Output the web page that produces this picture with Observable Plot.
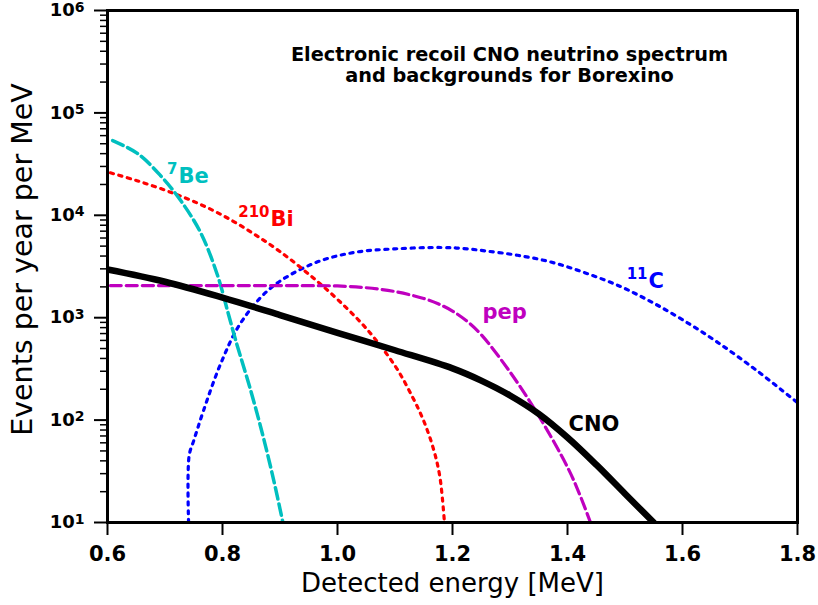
<!DOCTYPE html>
<html>
<head>
<meta charset="utf-8">
<script src="https://cdn.jsdelivr.net/npm/d3@7"></script>
<script src="https://cdn.jsdelivr.net/npm/@observablehq/plot@0.6"></script>
<style>
  html, body { margin: 0; padding: 0; background: #fff; }
  #chart { width: 818px; height: 605px; }
</style>
</head>
<body>
<div id="chart"></div>
<script>
// ---- data ----
const cnoE = [0.6, 0.7, 0.8, 0.9, 1.0, 1.1, 1.2, 1.25, 1.3, 1.35, 1.4, 1.45, 1.5, 1.55];
const cnoV = [2958, 2244, 1570, 1062, 711, 481, 320, 243, 174, 115, 67.6, 36.7, 19.1, 10];

const pepE = [0.605, 0.7, 0.8, 0.9, 0.95, 1.0, 1.05, 1.1, 1.15, 1.175, 1.2, 1.225, 1.25, 1.3, 1.35, 1.4, 1.42, 1.44];
const pepV = [2060, 2060, 2060, 2060, 2055, 2042, 1961, 1799, 1540, 1368, 1161, 925, 682, 295, 110, 34.7, 19.5, 10];

const be7E = [0.609, 0.652, 0.692, 0.727, 0.762, 0.791, 0.81, 0.823, 0.849, 0.871, 0.89, 0.905];
const be7V = [53700, 40200, 24500, 14000, 6760, 2630, 1100, 600, 195, 68, 24.5, 10];

const bi210E = [0.605, 0.65, 0.7, 0.75, 0.8, 0.85, 0.9, 0.95, 1.0, 1.05, 1.1, 1.13, 1.15, 1.167, 1.178, 1.186];
const bi210V = [26000, 21900, 17600, 13650, 10000, 6840, 4420, 2660, 1510, 785, 339, 170, 98, 52, 28, 10];

const c11E = [0.741, 0.742, 0.75, 0.767, 0.797, 0.831, 0.883, 0.958, 1.028, 1.1, 1.18, 1.22, 1.26, 1.313, 1.37, 1.43, 1.49, 1.544, 1.6, 1.661, 1.73, 1.8];
const c11V = [10, 45, 63, 124, 357, 877, 1930, 3380, 4330, 4700, 4850, 4730, 4470, 4070, 3510, 2750, 2040, 1445, 955, 575, 302, 148];

const labelSup  = ["7", "210", "", "11", ""];
const labelName = ["Be", "Bi", "pep", "C", "CNO"];
const labelE    = [0.7235, 0.8835, 1.2522, 1.5409, 1.4017];
const labelV    = [20460, 7950, 982, 1972, 79.1];
const labelColor = ["#00bfbf", "#ff0000", "#bf00bf", "#0000ff", "#000000"];

const xTicks = [0.6, 0.8, 1.0, 1.2, 1.4, 1.6, 1.8];
const yTicks = [10, 100, 1000, 10000, 100000, 1000000];
const yMinor = [];
for (let k = 1; k <= 5; k++) for (let m = 2; m <= 9; m++) yMinor.push(m * 10 ** k);

const titleText = "Electronic recoil CNO neutrino spectrum\nand backgrounds for Borexino";
const xLabel = "Detected energy [MeV]";
const yLabel = "Events per year per MeV";

// ---- build tables ----
const toRows = (E, V) => E.map((e, i) => ({E: e, v: V[i]}));
const cno = toRows(cnoE, cnoV);
const pep = toRows(pepE, pepV);
const be7 = toRows(be7E, be7V);
const bi210 = toRows(bi210E, bi210V);
const c11 = toRows(c11E, c11V);
const labels = labelName.map((n, i) => ({name: n, sup: labelSup[i], E: labelE[i], v: labelV[i], color: labelColor[i]}));

const font = "DejaVu Sans";
const curve = "catmull-rom";

const chart = Plot.plot({
  width: 818,
  height: 605,
  marginLeft: 107,
  marginRight: 21,
  marginTop: 10,
  marginBottom: 83,
  style: {fontFamily: font, background: "#fff", color: "#000"},
  x: {domain: [0.6, 1.8], label: null},
  y: {type: "log", domain: [10, 1e6], label: null},
  color: {type: "identity"},
  marks: [
    Plot.line(c11, {x: "E", y: "v", stroke: "#0000ff", strokeWidth: 3.2, strokeDasharray: "3.2,5.6", curve, clip: true}),
    Plot.line(bi210, {x: "E", y: "v", stroke: "#ff0000", strokeWidth: 3.2, strokeDasharray: "3.2,5.6", curve, clip: true}),
    Plot.line(be7, {x: "E", y: "v", stroke: "#00bfbf", strokeWidth: 3.5, strokeDasharray: "11.5,5", curve, clip: true}),
    Plot.line(pep, {x: "E", y: "v", stroke: "#bf00bf", strokeWidth: 3.2, strokeDasharray: "11,5", curve, clip: true}),
    Plot.line(cno, {x: "E", y: "v", stroke: "#000", strokeWidth: 6.5, curve, clip: true}),
    Plot.text(labels, {x: "E", y: "v", text: "name", fill: "color", textAnchor: "start", lineAnchor: "bottom", fontSize: 21, fontWeight: "bold"}),
    Plot.text(labels.filter(d => d.sup), {x: "E", y: "v", text: "sup", fill: "color", textAnchor: "end", lineAnchor: "bottom", dx: -1, dy: -9, fontSize: 15, fontWeight: "bold"}),
    Plot.text([titleText], {frameAnchor: "top", dx: 57, dy: 35, lineAnchor: "top", lineHeight: 1.1, fontSize: 19.3, fontWeight: "bold", textAnchor: "middle"}),
    Plot.axisY({ticks: yMinor, tickSize: 7, strokeWidth: 1.5, tickFormat: () => "", label: null}),
    Plot.axisY({ticks: yTicks, tickSize: 13, strokeWidth: 2, tickPadding: 10, fontSize: 18, fontWeight: "bold", tickFormat: d => String(Math.round(Math.log10(d))), label: null}),
    Plot.axisX({ticks: xTicks, tickSize: 13, strokeWidth: 2, tickPadding: 11, fontSize: 21, fontWeight: "bold", tickFormat: d3.format(".1f"), label: null}),
    Plot.text([xLabel], {frameAnchor: "bottom", dy: 61, fontSize: 26, textAnchor: "middle", lineAnchor: "middle"}),
    Plot.text([yLabel], {frameAnchor: "left", dx: -85, dy: -7, rotate: -90, fontSize: 28.5, textAnchor: "middle", lineAnchor: "middle"}),
    Plot.frame({stroke: "#000", strokeWidth: 3})
  ]
});

// superscript exponents on the log-axis labels
d3.select(chart).selectAll('g[aria-label="y-axis tick label"] text').each(function () {
  const e = this.textContent;
  if (!e) return;
  const t = d3.select(this);
  t.text("10");
  t.append("tspan").attr("dy", "-0.33em").attr("font-size", "0.78em").text(e);
});

document.getElementById("chart").appendChild(chart);
</script>
</body>
</html>
